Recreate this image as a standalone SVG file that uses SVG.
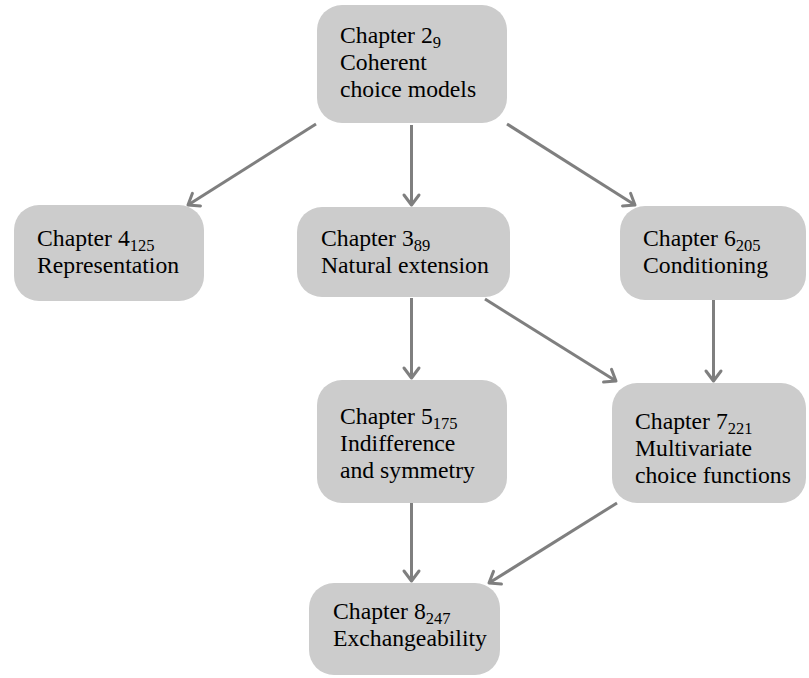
<svg xmlns="http://www.w3.org/2000/svg" width="809" height="678" viewBox="0 0 809 678">
<defs>
<style>
.box{fill:#cccccc;}
.t{font-family:'Liberation Serif','Times New Roman',Times,'DejaVu Serif','Noto Serif',serif;font-size:23.7px;fill:#000;}
.sub{font-size:16.5px;}
.e{stroke:#7f7f7f;stroke-width:3;fill:none;marker-end:url(#ah);}
</style>
<marker id="ah" markerUnits="userSpaceOnUse" markerWidth="24" markerHeight="24" refX="0" refY="0" viewBox="-14 -12 16 24" orient="auto">
<path d="M-10,-7.5 L0,0 L-10,7.5" fill="none" stroke="#7f7f7f" stroke-width="3" stroke-linecap="round" stroke-linejoin="round"/>
</marker>
</defs>
<g id="connectors">
<line class="e" x1="316" y1="124" x2="188" y2="205"/>
<line class="e" x1="411.5" y1="125" x2="411.5" y2="205"/>
<line class="e" x1="507" y1="124" x2="635" y2="205"/>
<line class="e" x1="411.5" y1="298" x2="411.5" y2="378"/>
<line class="e" x1="485" y1="299" x2="616" y2="381"/>
<line class="e" x1="713.5" y1="300" x2="713.5" y2="381"/>
<line class="e" x1="411.5" y1="503" x2="411.5" y2="581"/>
<line class="e" x1="617" y1="503" x2="489" y2="583"/>
</g>
<g id="ch2">
<rect class="box" x="317" y="5" width="190" height="118" rx="25"/>
<text class="t" x="340" y="43">Chapter 2<tspan class="sub" dy="5">9</tspan></text>
<text class="t" x="340" y="70">Coherent</text>
<text class="t" x="340" y="97">choice models</text>
</g>
<g id="ch4">
<rect class="box" x="14" y="205" width="190" height="96" rx="25"/>
<text class="t" x="37" y="246">Chapter 4<tspan class="sub" dy="5">125</tspan></text>
<text class="t" x="37" y="273">Representation</text>
</g>
<g id="ch3">
<rect class="box" x="297" y="207" width="213" height="90" rx="25"/>
<text class="t" x="321" y="246">Chapter 3<tspan class="sub" dy="5">89</tspan></text>
<text class="t" x="321" y="273">Natural extension</text>
</g>
<g id="ch6">
<rect class="box" x="620" y="206" width="186" height="94" rx="25"/>
<text class="t" x="643" y="246">Chapter 6<tspan class="sub" dy="5">205</tspan></text>
<text class="t" x="643" y="273">Conditioning</text>
</g>
<g id="ch5">
<rect class="box" x="317" y="380" width="190" height="123" rx="25"/>
<text class="t" x="340" y="424">Chapter 5<tspan class="sub" dy="5">175</tspan></text>
<text class="t" x="340" y="451">Indifference</text>
<text class="t" x="340" y="478">and symmetry</text>
</g>
<g id="ch7">
<rect class="box" x="612" y="383" width="194" height="120" rx="25"/>
<text class="t" x="635" y="429">Chapter 7<tspan class="sub" dy="5">221</tspan></text>
<text class="t" x="635" y="456">Multivariate</text>
<text class="t" x="635" y="483">choice functions</text>
</g>
<g id="ch8">
<rect class="box" x="309" y="583" width="191" height="92" rx="25"/>
<text class="t" x="333" y="619">Chapter 8<tspan class="sub" dy="5">247</tspan></text>
<text class="t" x="333" y="646">Exchangeability</text>
</g>
</svg>
